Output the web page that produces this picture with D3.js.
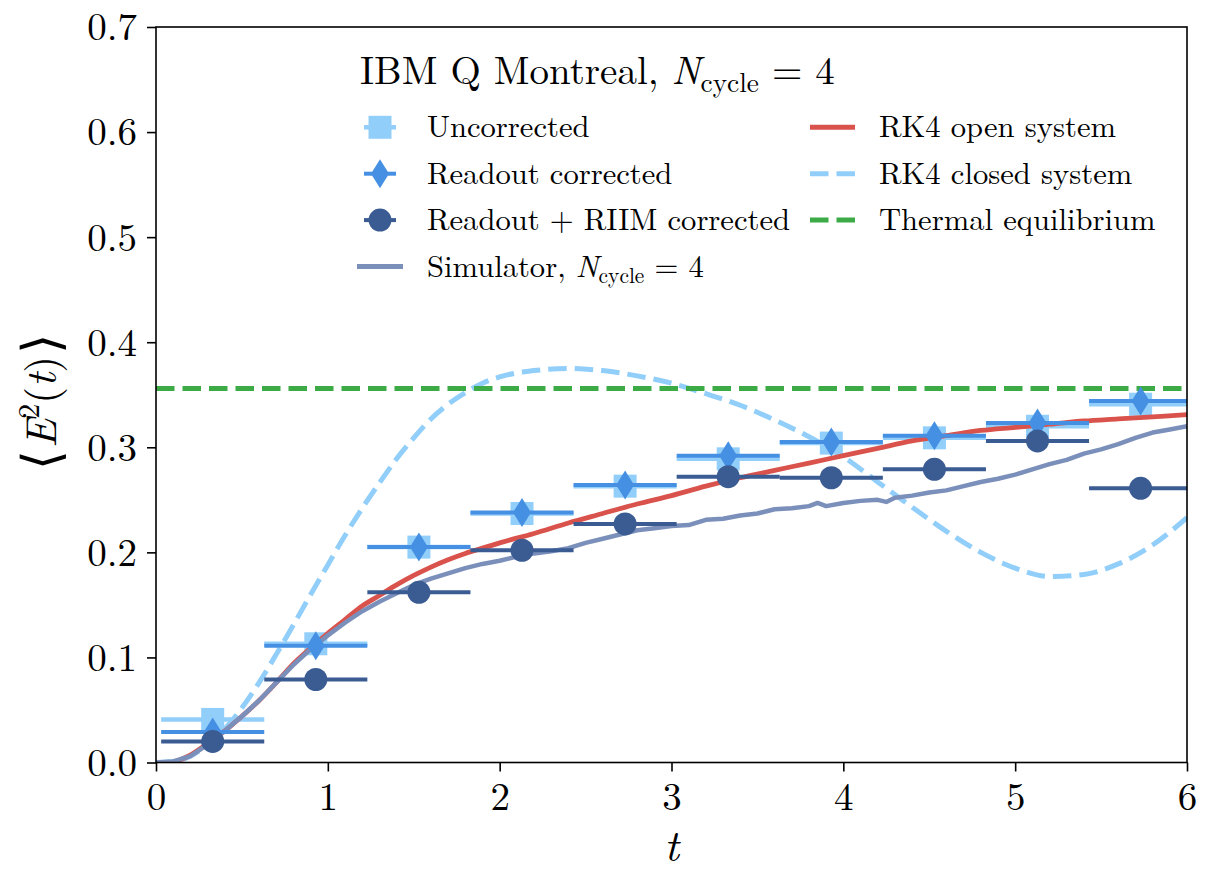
<!DOCTYPE html>
<html><head><meta charset="utf-8">
<script src="https://cdn.jsdelivr.net/npm/d3@7"></script>
<style>body{margin:0;background:#fff} svg{display:block}</style>
</head><body>
<svg id="c" width="1220" height="869"></svg>
<script>
// ---------------- data ----------------
const xTicks = [0, 1, 2, 3, 4, 5, 6];
const yTicks = [0.0, 0.1, 0.2, 0.3, 0.4, 0.5, 0.6, 0.7];

const tPoints = [0.33, 0.93, 1.53, 2.13, 2.73, 3.33, 3.93, 4.53, 5.13, 5.73];
const xErr = 0.3;
const uncorrected = [0.041, 0.113, 0.205, 0.237, 0.263, 0.289, 0.304, 0.309, 0.320, 0.341];
const readout     = [0.029, 0.111, 0.205, 0.238, 0.264, 0.292, 0.305, 0.311, 0.323, 0.344];
const riim        = [0.020, 0.079, 0.162, 0.202, 0.227, 0.272, 0.271, 0.279, 0.306, 0.261];

const thermal = 0.356;

const tOpen = [0.1,0.2,0.3,0.4,0.5,0.6,0.7,0.8,0.9,1.0,1.1,1.2,1.3,1.4,1.5,1.6,1.7,1.8,1.9,2.0,
  2.2,2.4,2.6,2.8,3.0,3.2,3.4,3.6,3.8,4.0,4.2,4.4,4.6,4.8,5.0,5.2,5.4,5.6,5.8,6.0];
const openVals = [0.000,0.007,0.018,0.030,0.044,0.059,0.076,0.094,0.109,0.123,0.136,0.149,0.159,0.169,0.178,0.186,0.193,0.199,0.204,0.209,
  0.218,0.228,0.237,0.246,0.254,0.263,0.271,0.278,0.285,0.292,0.299,0.306,0.311,0.316,0.319,0.322,0.325,0.327,0.329,0.331];

const tClosed = [0.0,0.1,0.2,0.3,0.4,0.5,0.6,0.7,0.8,0.9,1.0,1.1,1.2,1.3,1.4,1.5,1.6,1.7,1.8,1.9,2.0,
  2.2,2.4,2.6,2.8,3.0,3.2,3.4,3.6,3.8,4.0,4.2,4.4,4.6,4.8,5.0,5.2,5.4,5.6,5.8,6.0];
const closedVals = [0.000,0.001,0.006,0.017,0.032,0.052,0.076,0.103,0.131,0.160,0.188,0.216,0.242,0.266,0.289,0.309,0.327,0.341,0.352,0.361,0.367,
  0.373,0.375,0.373,0.368,0.361,0.351,0.340,0.326,0.310,0.291,0.267,0.243,0.220,0.200,0.185,0.177,0.179,0.189,0.207,0.233];

const tSim = [0.0,0.1,0.2,0.3,0.4,0.5,0.6,0.7,0.8,0.9,1.0,1.1,1.2,1.3,1.4,1.5,1.6,1.7,1.8,1.9,2.0,
  2.1,2.2,2.3,2.4,2.5,2.6,2.7,2.8,2.9,3.0,3.1,3.2,3.3,3.4,3.5,3.6,3.7,3.8,3.85,3.9,4.0,4.1,4.2,4.25,4.3,
  4.4,4.5,4.6,4.7,4.8,4.9,5.0,5.1,5.2,5.3,5.4,5.5,5.6,5.7,5.8,5.9,6.0];
const simVals = [0.000,0.001,0.006,0.017,0.030,0.044,0.059,0.076,0.093,0.108,0.121,0.133,0.144,0.153,0.161,0.169,0.175,0.180,0.185,0.189,0.192,
  0.196,0.199,0.201,0.204,0.209,0.213,0.217,0.221,0.223,0.225,0.226,0.231,0.232,0.235,0.237,0.241,0.242,0.244,0.247,0.244,0.247,0.249,0.250,0.248,0.252,
  0.254,0.257,0.259,0.263,0.267,0.270,0.274,0.279,0.284,0.288,0.294,0.298,0.303,0.309,0.314,0.317,0.320];

const legendTitle = [{t:"IBM Q Montreal, "},{t:"N",it:true},{t:"cycle",sub:true},{t:" = 4"}];
const legendCol1 = [
  [{t:"Uncorrected"}],
  [{t:"Readout corrected"}],
  [{t:"Readout + RIIM corrected"}],
  [{t:"Simulator, "},{t:"N",it:true},{t:"cycle",sub:true},{t:" = 4"}]
];
const legendCol2 = [
  [{t:"RK4 open system"}],
  [{t:"RK4 closed system"}],
  [{t:"Thermal equilibrium"}]
];

// ---------------- styles ----------------
const FONT = '"Latin Modern Roman","Liberation Serif","DejaVu Serif",serif';
const C = {
  light: "#92cefa",
  mid: "#4690e3",
  dark: "#3b5b93",
  sim: "#7b8fbb",
  red: "#d9534c",
  green: "#3cab45"
};

// ---------------- scales ----------------
const svg = d3.select("#c");
svg.append("rect").attr("width",1220).attr("height",869).attr("fill","#fff");
const L = 156, R = 1187, T = 27, B = 762.5;
const x = d3.scaleLinear().domain([0,6]).range([L,R]);
const y = d3.scaleLinear().domain([0,0.7]).range([B,T]);

svg.append("defs").append("clipPath").attr("id","clip")
  .append("rect").attr("x",L).attr("y",T).attr("width",R-L).attr("height",B-T);
const plot = svg.append("g").attr("clip-path","url(#clip)");

const zip = (ts, vs) => ts.map((t,i)=>[t,vs[i]]);
const dash = "18.5,8";

// closed system dashed
plot.append("path").datum(zip(tClosed, closedVals))
  .attr("d", d3.line().x(d=>x(d[0])).y(d=>y(d[1])).curve(d3.curveMonotoneX))
  .attr("fill","none").attr("stroke",C.light).attr("stroke-width",5).attr("stroke-dasharray",dash);

function errSeries(vals, color, lw, marker) {
  const g = plot.append("g");
  const pts = zip(tPoints, vals);
  g.selectAll("line").data(pts).join("line")
    .attr("x1",d=>x(d[0]-xErr)).attr("x2",d=>x(d[0]+xErr))
    .attr("y1",d=>y(d[1])).attr("y2",d=>y(d[1]))
    .attr("stroke",color).attr("stroke-width",lw);
  pts.forEach(d => marker(g, x(d[0]), y(d[1]), color));
}
function square(g, cx, cy, color){ g.append("rect").attr("x",cx-11.5).attr("y",cy-11.5).attr("width",23).attr("height",23).attr("fill",color); }
function diamond(g, cx, cy, color){ g.append("path").attr("d",`M${cx},${cy-14.5}L${cx+9},${cy}L${cx},${cy+14.5}L${cx-9},${cy}Z`).attr("fill",color); }
function circle(g, cx, cy, color){ g.append("circle").attr("cx",cx).attr("cy",cy).attr("r",11.5).attr("fill",color); }

errSeries(uncorrected, C.light, 4.5, square);

plot.append("path").datum(zip(tOpen, openVals))
  .attr("d", d3.line().x(d=>x(d[0])).y(d=>y(d[1])).curve(d3.curveMonotoneX))
  .attr("fill","none").attr("stroke",C.red).attr("stroke-width",4.8);

plot.append("path").datum(zip(tSim, simVals))
  .attr("d", d3.line().x(d=>x(d[0])).y(d=>y(d[1])))
  .attr("fill","none").attr("stroke",C.sim).attr("stroke-width",4.5).attr("stroke-linejoin","round");

plot.append("line").attr("x1",x(0)).attr("x2",x(6)).attr("y1",y(thermal)).attr("y2",y(thermal))
  .attr("stroke",C.green).attr("stroke-width",5).attr("stroke-dasharray",dash);

errSeries(readout, C.mid, 4, diamond);
errSeries(riim, C.dark, 4, circle);

// ---------------- axes ----------------
const fs = 39;
const xAxis = svg.append("g").attr("transform",`translate(0,${B})`)
  .call(d3.axisBottom(x).tickValues(xTicks).tickFormat(d3.format("d")).tickSize(9).tickPadding(12));
const yAxis = svg.append("g").attr("transform",`translate(${L},0)`)
  .call(d3.axisLeft(y).tickValues(yTicks).tickFormat(d3.format(".1f")).tickSize(9).tickPadding(10));
[xAxis,yAxis].forEach(a=>{
  a.select(".domain").remove();
  a.selectAll(".tick line").attr("stroke","#000").attr("stroke-width",1.6);
  a.selectAll(".tick text").style("font-family",FONT).style("font-size",fs+"px").attr("fill","#000");
});
yAxis.selectAll(".tick text").attr("dy","0.33em");
xAxis.selectAll(".tick text").attr("dy","0.68em");

svg.append("rect").attr("x",L).attr("y",T).attr("width",R-L).attr("height",B-T)
  .attr("fill","none").attr("stroke","#000").attr("stroke-width",1.6);

// axis labels
svg.append("text").attr("x",x(3)).attr("y",861).attr("text-anchor","middle")
  .style("font-family",FONT).style("font-size","45px").style("font-style","italic").text("t");

const yl = svg.append("text").attr("transform","translate(56,402) rotate(-90)")
  .attr("text-anchor","middle").style("font-family",FONT).style("font-size","43px");
yl.append("tspan").style("font-size","52px").attr("dy",3).text("\u27E8");
yl.append("tspan").style("font-style","italic").attr("dy",-3).attr("dx",2).text("E");
yl.append("tspan").style("font-size","30px").attr("dy",-17).text("2");
yl.append("tspan").attr("dy",17).text("(");
yl.append("tspan").style("font-style","italic").text("t");
yl.append("tspan").text(")");
yl.append("tspan").style("font-size","52px").attr("dy",3).attr("dx",2).text("\u27E9");

// ---------------- legend ----------------
function mathText(parent, parts, x0, y0, size) {
  const t = parent.append("text").attr("x",x0).attr("y",y0)
    .style("font-family",FONT).style("font-size",size+"px").attr("fill","#000");
  const shift = size*0.2;
  let down = false;
  parts.forEach(p=>{
    const s = t.append("tspan").text(p.t);
    if (p.it) s.style("font-style","italic");
    if (p.sub) { s.style("font-size",(size*0.7)+"px").attr("dy",shift); down = true; }
    else if (down) { s.attr("dy",-shift); down = false; }
  });
  return t;
}

const leg = svg.append("g");
mathText(leg, legendTitle, 360, 84, 39);

const rowY = [137.3, 183.7, 230.1, 276.5];
const lfs = 30.6;
legendCol1.forEach((parts,i)=> mathText(leg, parts, 427, rowY[i], lfs));
legendCol2.forEach((parts,i)=> mathText(leg, parts, 879, rowY[i], lfs));

const hy = rowY.map(v=>v-10);
const hx = 380;
[[C.light,4.5,square],[C.mid,4,diamond],[C.dark,4,circle]].forEach((s,i)=>{
  leg.append("line").attr("x1",hx-16).attr("x2",hx+16).attr("y1",hy[i]).attr("y2",hy[i])
    .attr("stroke",s[0]).attr("stroke-width",s[1]);
  s[2](leg, hx, hy[i], s[0]);
});
leg.append("line").attr("x1",357).attr("x2",403).attr("y1",hy[3]).attr("y2",hy[3])
  .attr("stroke",C.sim).attr("stroke-width",5);
leg.append("line").attr("x1",810).attr("x2",855).attr("y1",hy[0]).attr("y2",hy[0])
  .attr("stroke",C.red).attr("stroke-width",5);
leg.append("line").attr("x1",810).attr("x2",855).attr("y1",hy[1]).attr("y2",hy[1])
  .attr("stroke",C.light).attr("stroke-width",5).attr("stroke-dasharray",dash);
leg.append("line").attr("x1",810).attr("x2",855).attr("y1",hy[2]).attr("y2",hy[2])
  .attr("stroke",C.green).attr("stroke-width",5).attr("stroke-dasharray",dash);
</script>
</body></html>
